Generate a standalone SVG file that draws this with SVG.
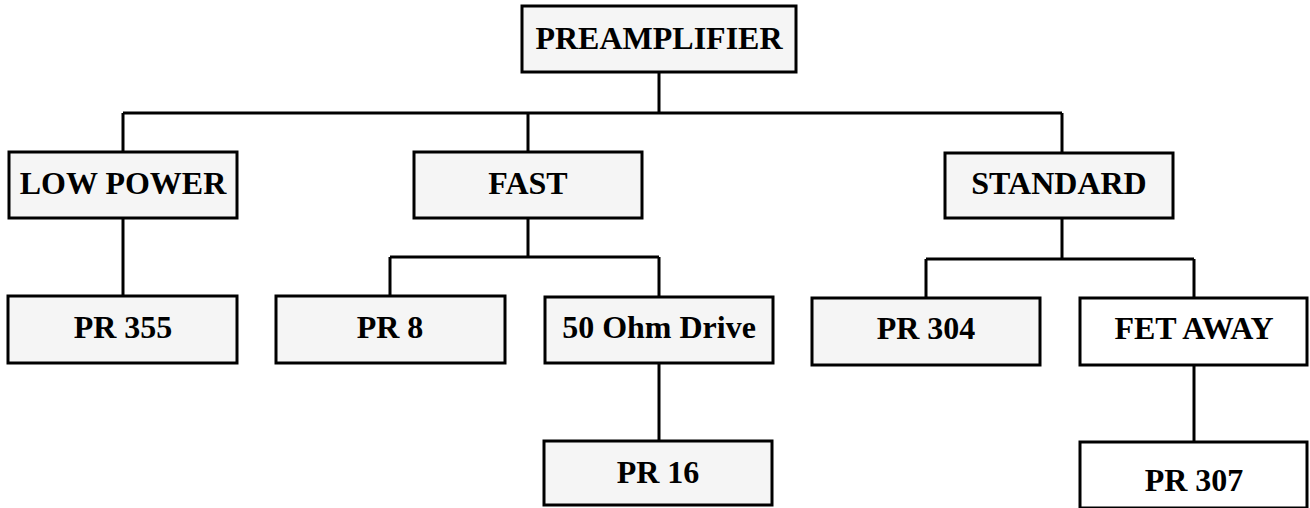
<svg xmlns="http://www.w3.org/2000/svg" width="1310" height="508" viewBox="0 0 1310 508">
<style>
.box{fill:#f5f5f5;stroke:#000;stroke-width:3}
.plain{fill:#fff;stroke:#000;stroke-width:3}
.lbl{font-family:"Liberation Serif","Times New Roman",serif;font-weight:bold;font-size:32px;fill:#000;text-anchor:middle}
.conn{fill:none;stroke:#000;stroke-width:3}
</style>
<rect width="1310" height="508" fill="#fff"/>
<g id="connectors" class="conn">
<path d="M659 72V113M123 113H1062M123 113V152M528 113V152M1062 113V153"/>
<path d="M123 218V296"/>
<path d="M528 218V257M390 257H659M390 257V296M659 257V297"/>
<path d="M1062 218V259M926 259H1194M926 259V298M1194 259V298"/>
<path d="M659 363V441"/>
<path d="M1194 365V442"/>
</g>
<g id="preamplifier"><rect class="box" x="522" y="6" width="274" height="66"/><text class="lbl" x="659" y="49">PREAMPLIFIER</text></g>
<g id="low-power"><rect class="box" x="9" y="152" width="228" height="66"/><text class="lbl" x="123" y="194">LOW POWER</text></g>
<g id="fast"><rect class="box" x="414" y="152" width="228" height="66"/><text class="lbl" x="528" y="194">FAST</text></g>
<g id="standard"><rect class="box" x="945" y="153" width="228" height="65"/><text class="lbl" x="1059" y="194">STANDARD</text></g>
<g id="pr355"><rect class="box" x="8" y="296" width="229" height="67"/><text class="lbl" x="123" y="338">PR 355</text></g>
<g id="pr8"><rect class="box" x="276" y="296" width="229" height="67"/><text class="lbl" x="390" y="338">PR 8</text></g>
<g id="ohm50"><rect class="box" x="545" y="297" width="228" height="66"/><text class="lbl" x="659" y="338">50 Ohm Drive</text></g>
<g id="pr304"><rect class="box" x="812" y="298" width="228" height="67"/><text class="lbl" x="926" y="339">PR 304</text></g>
<g id="fet-away"><rect class="plain" x="1080" y="298" width="227" height="67"/><text class="lbl" x="1194" y="339">FET AWAY</text></g>
<g id="pr16"><rect class="box" x="544" y="441" width="228" height="64"/><text class="lbl" x="658" y="483">PR 16</text></g>
<g id="pr307"><rect class="plain" x="1080" y="442" width="227" height="66"/><text class="lbl" x="1194" y="491">PR 307</text></g>
</svg>
